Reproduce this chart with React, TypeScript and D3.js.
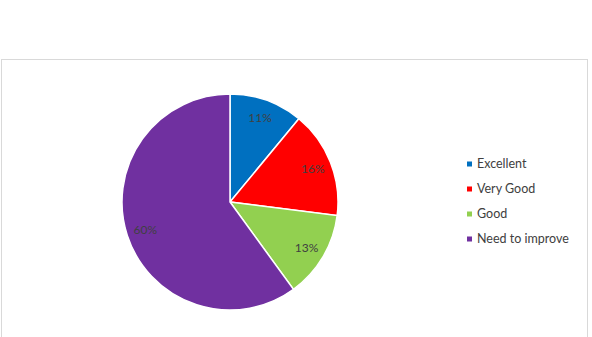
import React from "react";
import * as d3 from "d3";

const categories = ["Excellent", "Very Good", "Good", "Need to improve"];
const values = [11, 16, 13, 60];
const colors = ["#0070C0", "#FF0000", "#92D050", "#7030A0"];

export default function App() {
  const W = 592, H = 337;
  const cx = 230, cy = 202, r = 108, lr = 89;
  const pie = d3.pie<number>().sort(null).value((d) => d)(values);
  const arc = d3.arc<d3.PieArcDatum<number>>().innerRadius(0).outerRadius(r);
  const labelArc = d3.arc<d3.PieArcDatum<number>>().innerRadius(lr).outerRadius(lr);
  const total = d3.sum(values);
  const legendY = d3.scaleLinear().domain([0, categories.length - 1]).range([164, 239]);
  const font = "Lato, 'Open Sans', sans-serif";
  return (
    <svg width={W} height={H} style={{ position: "absolute", left: 0, top: 0, background: "#fff" }}>
      <rect x={1.5} y={59.5} width={586} height={290} fill="#fff" stroke="#d9d9d9" strokeWidth={1} />
      <g transform={`translate(${cx},${cy})`}>
        {pie.map((p, i) => (
          <path key={i} d={arc(p) || ""} fill={colors[i]} stroke="#fff" strokeWidth={1.5} />
        ))}
        {pie.map((p, i) => {
          const [x, y] = labelArc.centroid(p);
          return (
            <text key={i} x={x} y={y} dy="0.35em" textAnchor="middle" fontSize={12} fill="#404040" fontFamily={font}>
              {Math.round((values[i] / total) * 100)}%
            </text>
          );
        })}
      </g>
      {categories.map((c, i) => (
        <g key={c} transform={`translate(467,${legendY(i)})`}>
          <rect x={0} y={-2.5} width={5} height={5} fill={colors[i]} />
          <text x={10} y={0} dy="0.35em" fontSize={12.5} fill="#404040" fontFamily={font}>{c}</text>
        </g>
      ))}
    </svg>
  );
}
